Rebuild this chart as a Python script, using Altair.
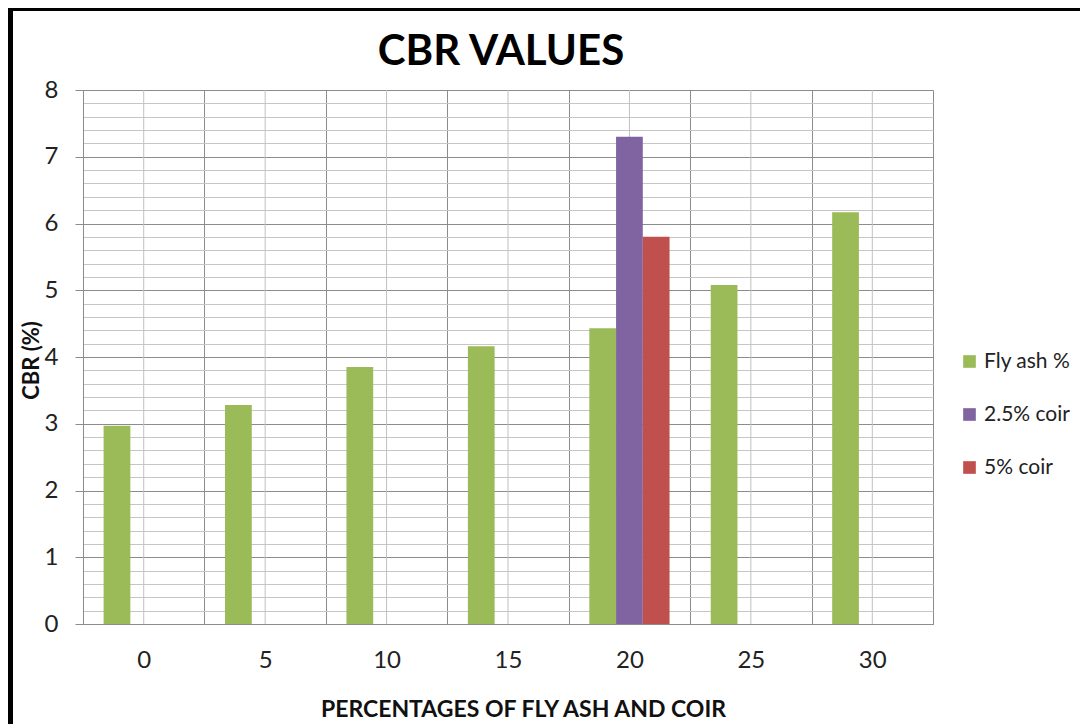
import altair as alt
import pandas as pd

# ---- data ----
categories = ["0", "5", "10", "15", "20", "25", "30"]
series = ["Fly ash %", "2.5% coir", "5% coir"]
fly_ash = [2.97, 3.28, 3.85, 4.16, 4.43, 5.08, 6.17]
coir_2_5_cat = ["20"]
coir_2_5 = [7.30]
coir_5_cat = ["20"]
coir_5 = [5.80]
colors = ["#9BBB59", "#8064A2", "#C0504D"]
y_ticks = [0, 0.2, 0.4, 0.6, 0.8, 1, 1.2, 1.4, 1.6, 1.8, 2, 2.2, 2.4, 2.6, 2.8,
           3, 3.2, 3.4, 3.6, 3.8, 4, 4.2, 4.4, 4.6, 4.8, 5, 5.2, 5.4, 5.6, 5.8,
           6, 6.2, 6.4, 6.6, 6.8, 7, 7.2, 7.4, 7.6, 7.8, 8]

rows = []
for c, v in zip(categories, fly_ash):
    rows.append({"fly": c, "series": series[0], "cbr": v})
for c, v in zip(coir_2_5_cat, coir_2_5):
    rows.append({"fly": c, "series": series[1], "cbr": v})
for c, v in zip(coir_5_cat, coir_5):
    rows.append({"fly": c, "series": series[2], "cbr": v})
df = pd.DataFrame(rows)
cat_df = pd.DataFrame({"fly": categories})

FONT = "Lato"
MAJOR = "abs(datum.value - round(datum.value)) < 0.01"
DARK = "#8c8c8c"
LIGHT = "#c6c6c6"

x_scale = alt.Scale(type="band", domain=categories, paddingInner=0, paddingOuter=0)
x_axis = alt.Axis(
    title="PERCENTAGES OF FLY ASH AND COIR", labelAngle=0, ticks=False,
    tickBand="extent", grid=True, gridColor=DARK, gridWidth=1,
    domainColor=DARK, labelFont=FONT, labelFontSize=24, labelColor="#222222",
    labelPadding=24, titleFont=FONT, titleFontSize=23, titleFontWeight="bold",
    titleColor="#111111", titleX=440, titleY=92, titleBaseline="alphabetic",
)

centers = alt.Chart(cat_df).mark_rule(color="#c0c0c0", strokeWidth=1).encode(
    x=alt.X("fly:N", sort=categories, scale=x_scale, axis=x_axis)
)

bars = alt.Chart(df).mark_bar().encode(
    x=alt.X("fly:N", sort=categories, scale=x_scale, axis=x_axis),
    xOffset=alt.XOffset("series:N", sort=series,
                        scale=alt.Scale(domain=series, paddingInner=0, paddingOuter=0.77)),
    y=alt.Y(
        "cbr:Q", scale=alt.Scale(domain=[0, 8], nice=False),
        axis=alt.Axis(
            title="CBR (%)", values=y_ticks, format=".0f",
            labelExpr=MAJOR + " ? datum.label : ''",
            gridColor={"condition": {"test": MAJOR, "value": DARK}, "value": LIGHT},
            tickColor={"condition": {"test": MAJOR, "value": DARK}, "value": "transparent"},
            tickSize=8, labelPadding=17, labelFont=FONT, labelFontSize=24,
            labelColor="#222222", labelOverlap=False, labelFlush=False,
            domainColor=DARK, titleFont=FONT, titleFontSize=22, titleFontWeight="bold",
            titleColor="#111111", titleX=-40, titleY=270,
        ),
    ),
    color=alt.Color(
        "series:N", sort=series,
        scale=alt.Scale(domain=series, range=colors),
        legend=alt.Legend(
            title=None, orient="none", legendX=876, legendY=261,
            symbolType="square", symbolSize=160, symbolStrokeWidth=0,
            labelFont=FONT, labelFontSize=21, labelColor="#222222",
            labelOffset=4, rowPadding=31, padding=0,
        ),
    ),
)

frame = alt.Chart(alt.Data(values=[{"a": 1}])).mark_rect(
    filled=False, stroke="black", strokeWidth=5
).encode(
    x=alt.value(-72.5), x2=alt.value(1100), y=alt.value(-81.5), y2=alt.value(720)
)

chart = alt.layer(centers, bars, frame).properties(
    width=850, height=534,
    title=alt.TitleParams("CBR VALUES", font=FONT, fontSize=42, fontWeight="bold",
                          anchor="middle", offset=-68, dx=-7, color="black"),
    autosize=alt.AutoSizeParams(type="none"),
    padding={"left": 75, "top": 82, "right": 147, "bottom": 100},
).configure_view(stroke=DARK, strokeWidth=1).configure(background="white")

chart.save("out.html", embed_options={"renderer": "svg", "actions": False})
